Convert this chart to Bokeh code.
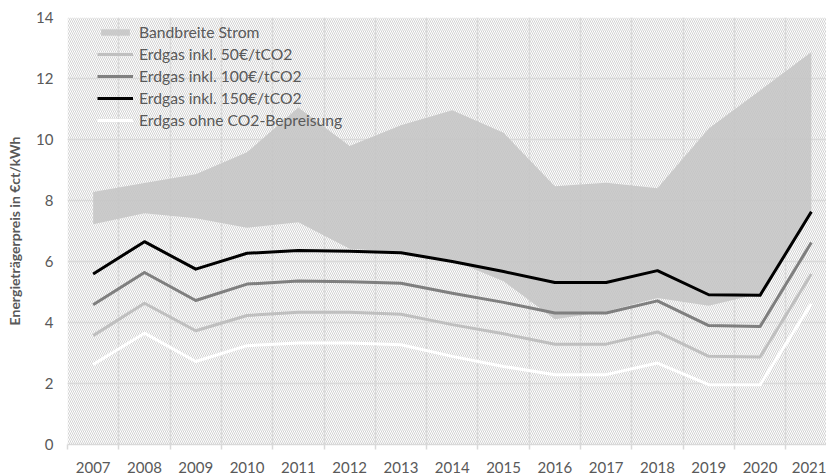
from bokeh.plotting import figure
from bokeh.models import (FixedTicker, Legend, LegendItem, BoxAnnotation, Range1d,
                          ColumnDataSource)
from bokeh.embed import file_html
from bokeh.resources import INLINE

years = [2007, 2008, 2009, 2010, 2011, 2012, 2013, 2014, 2015, 2016, 2017, 2018, 2019, 2020, 2021]
strom_upper = [8.28, 8.57, 8.86, 9.58, 11.05, 9.79, 10.47, 10.96, 10.22, 8.47, 8.58, 8.40, 10.36, 11.61, 12.87]
strom_lower = [7.22, 7.58, 7.42, 7.11, 7.29, 6.42, 6.30, 6.05, 5.35, 4.11, 4.36, 4.80, 4.55, 4.95, 7.63]
gas_50 = [3.57, 4.63, 3.73, 4.23, 4.34, 4.34, 4.27, 3.93, 3.63, 3.29, 3.29, 3.69, 2.89, 2.87, 5.59]
gas_100 = [4.58, 5.64, 4.72, 5.26, 5.36, 5.34, 5.29, 4.96, 4.66, 4.31, 4.31, 4.71, 3.90, 3.87, 6.62]
gas_150 = [5.59, 6.65, 5.75, 6.27, 6.36, 6.34, 6.29, 6.00, 5.67, 5.31, 5.31, 5.70, 4.91, 4.89, 7.63]
gas_ohne = [2.62, 3.65, 2.72, 3.24, 3.33, 3.33, 3.27, 2.89, 2.56, 2.29, 2.29, 2.67, 1.96, 1.96, 4.62]
y_ticks = [0, 2, 4, 6, 8, 10, 12, 14]

labels = ["Bandbreite Strom", "Erdgas inkl. 50€/tCO2", "Erdgas inkl. 100€/tCO2",
          "Erdgas inkl. 150€/tCO2", "Erdgas ohne CO2-Bepreisung"]

FONT = "Lato"
TXT = "#595959"
GRID = "#d9d9d9"

src = ColumnDataSource(dict(x=years, up=strom_upper, lo=strom_lower, g50=gas_50,
                            g100=gas_100, g150=gas_150, g0=gas_ohne))

p = figure(width=826, height=475, output_backend="svg", toolbar_location=None,
           x_range=Range1d(years[0] - 0.5, years[0] - 0.5 + 759 / 51.3),
           y_range=Range1d(0, 14),
           min_border_left=67, min_border_right=0, min_border_top=17, min_border_bottom=30)
p.outline_line_color = None
p.background_fill_color = "white"

bg = BoxAnnotation(fill_color="white", fill_alpha=1.0, hatch_pattern="\\",
                   hatch_color="#d2d2d2", hatch_scale=4, hatch_weight=1, level="image",
                   line_color=None)
p.add_layout(bg)

boundaries = [y - 0.5 for y in years] + [years[-1] + 0.5]

p.xaxis.ticker = FixedTicker(ticks=years, minor_ticks=boundaries)
p.xaxis.major_tick_line_color = None
p.xaxis.major_tick_out = 0
p.xaxis.minor_tick_in = 0
p.xaxis.minor_tick_out = 5
p.xaxis.minor_tick_line_color = GRID
p.xaxis.minor_tick_line_width = 1.5
p.xaxis.axis_line_color = GRID
p.xaxis.axis_line_width = 1.5
p.xaxis.major_label_standoff = 12
p.xaxis.major_label_text_font = FONT
p.xaxis.major_label_text_font_size = "15px"
p.xaxis.major_label_text_color = TXT

p.yaxis.ticker = FixedTicker(ticks=y_ticks)
p.yaxis.axis_line_color = None
p.yaxis.major_tick_line_color = None
p.yaxis.minor_tick_line_color = None
p.yaxis.major_tick_out = 0
p.yaxis.major_label_standoff = 14
p.yaxis.major_label_text_font = FONT
p.yaxis.major_label_text_font_size = "15px"
p.yaxis.major_label_text_color = TXT
p.yaxis.axis_label = "Energieträgerpreis in €ct/kWh"
p.yaxis.axis_label_text_font = FONT
p.yaxis.axis_label_text_font_size = "14px"
p.yaxis.axis_label_text_font_style = "bold"
p.yaxis.axis_label_text_color = TXT
p.yaxis.axis_label_standoff = 10

p.xgrid.ticker = FixedTicker(ticks=boundaries)
p.xgrid.grid_line_color = GRID
p.xgrid.grid_line_width = 1.5
p.ygrid.ticker = FixedTicker(ticks=y_ticks)
p.ygrid.grid_line_color = GRID
p.ygrid.grid_line_width = 1.5

r_band = p.varea(x="x", y1="lo", y2="up", source=src, fill_color="#c4c4c4", fill_alpha=0.85)
r50 = p.line("x", "g50", source=src, line_color="#bfbfbf", line_width=3, line_join="round")
r100 = p.line("x", "g100", source=src, line_color="#7f7f7f", line_width=3, line_join="round")
r150 = p.line("x", "g150", source=src, line_color="black", line_width=3, line_join="round")
r0 = p.line("x", "g0", source=src, line_color="white", line_width=3, line_join="round")

legend = Legend(items=[LegendItem(label=labels[0], renderers=[r_band]),
                       LegendItem(label=labels[1], renderers=[r50]),
                       LegendItem(label=labels[2], renderers=[r100]),
                       LegendItem(label=labels[3], renderers=[r150]),
                       LegendItem(label=labels[4], renderers=[r0])],
                location=(30, 315), orientation="vertical",
                background_fill_alpha=0, border_line_color=None,
                padding=0, margin=0, spacing=4, glyph_width=36, glyph_height=8,
                label_height=17, label_standoff=6,
                label_text_font=FONT, label_text_font_size="15.7px", label_text_color=TXT)
p.add_layout(legend)

open("out.html", "w").write(file_html(p, INLINE))
